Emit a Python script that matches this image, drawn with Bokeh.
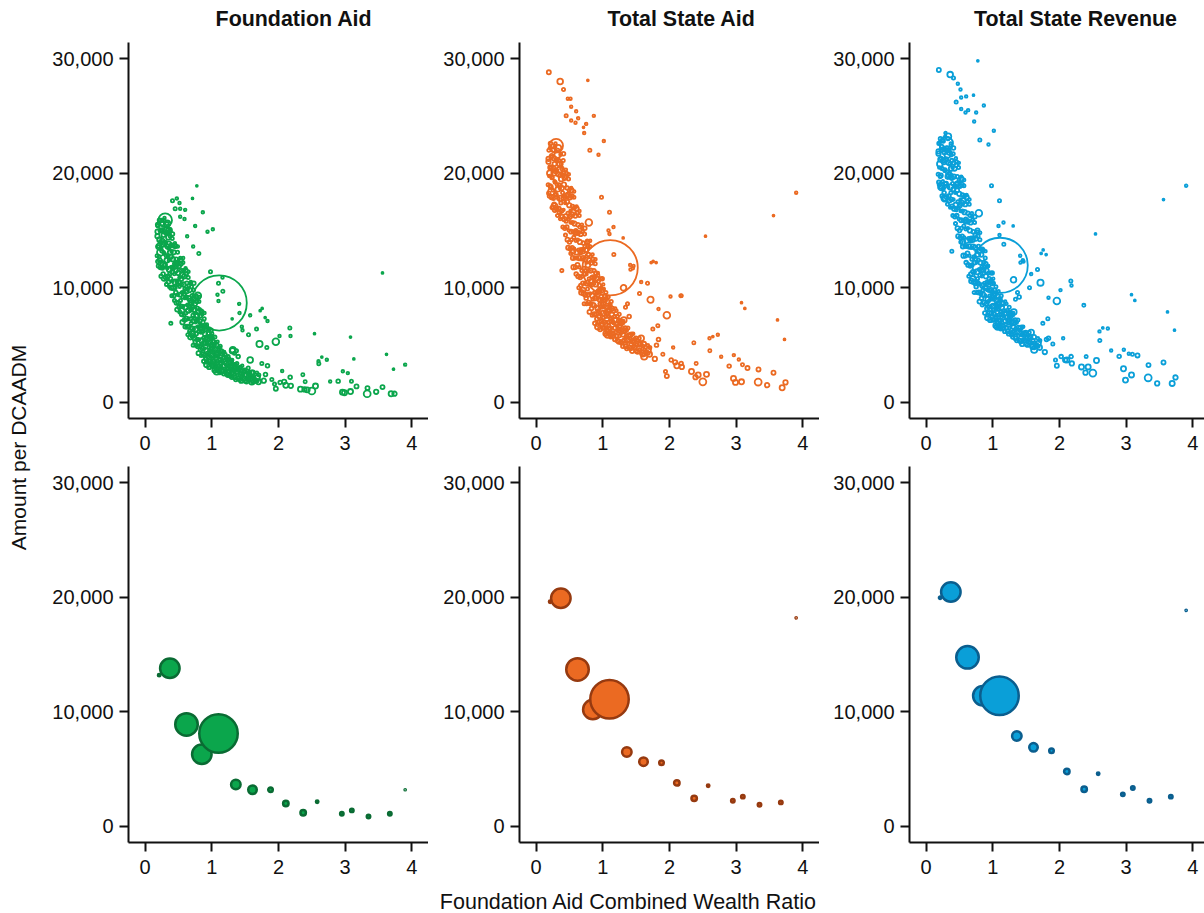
import math
from bokeh.plotting import figure
from bokeh.models import Range1d, FixedTicker, NumeralTickFormatter, Label, ColumnDataSource
from bokeh.layouts import row, column
from bokeh.embed import file_html
from bokeh.resources import INLINE

FONT = "Liberation Sans"
panel_titles = ["Foundation Aid", "Total State Aid", "Total State Revenue"]
x_ticks = [0, 1, 2, 3, 4]
y_ticks = [0, 10000, 20000, 30000]
y_label = "Amount per DCAADM"
x_label = "Foundation Aid Combined Wealth Ratio"

# ---- district level (top row): CWR, enrollment (thousands), $ thousands per DCAADM
out_cwr = [3.90, 3.56, 3.62, 3.725, 3.08, 3.13, 2.54, 0.775, 3.69, 3.74,
           3.465, 3.56, 3.33, 3.335, 3.17, 3.095, 3.04, 2.965, 2.895, 2.96,
           2.99, 3.08, 2.775, 2.725, 2.65, 2.605, 2.60, 2.555, 2.50, 2.43, 2.365]
out_enroll = [2, 1, 1, 1, 1, 1, 1, 1, 8, 6,
              6, 5, 15, 5, 5, 3, 2, 2, 4, 8,
              8, 8, 2, 2, 1, 3, 2, 8, 15, 8, 3]
out_fa = [3.3, 11.3, 4.2, 2.9, 5.7, 3.8, 6.0, 18.9, 0.76, 0.76,
          0.93, 1.34, 0.76, 1.25, 1.4, 1.86, 2.56, 2.73, 1.86, 0.9,
          0.84, 0.95, 1.83, 3.72, 3.96, 3.38, 3.6, 1.43, 1.0, 1.1, 2.42]
out_tsa = [18.3, 16.3, 7.2, 5.5, 8.7, 8.2, 14.5, 28.1, 1.28, 1.75,
           1.51, 2.59, 1.78, 2.88, 3.0, 3.29, 3.75, 4.13, 3.17, 2.1,
           1.75, 1.8, 3.99, 5.9, 5.75, 4.51, 5.6, 2.45, 1.8, 2.4, 5.21]
out_tsr = [18.9, 17.7, 7.9, 6.3, 9.4, 8.9, 14.7, 29.8, 1.66, 2.18,
           1.66, 3.49, 2.15, 3.26, 4.1, 4.2, 4.25, 4.6, 4.02, 2.94,
           1.95, 2.4, 4.54, 6.45, 6.5, 5.41, 6.2, 3.66, 2.56, 3.1, 8.47]

sp_cwr = [0.475, 0.41, 0.515, 0.525, 0.60, 0.45, 0.525, 0.59, 0.71, 0.865,
          0.75, 0.935, 1.015, 0.19, 0.36, 0.805, 0.63, 0.72, 0.98, 1.10,
          1.16, 1.165, 1.085, 1.10, 1.41, 1.415, 1.755, 1.725, 1.80, 1.575,
          1.835, 1.305, 0.385, 1.45, 1.46, 1.55, 1.67, 2.17, 2.18, 2.015,
          1.96, 1.715, 1.825, 1.75, 1.835, 1.31, 1.395, 1.37, 1.34, 2.055,
          1.805, 1.60, 1.62, 1.78, 2.175, 1.94, 1.96, 2.025, 2.085, 2.11,
          2.185, 2.33, 2.39, 1.90, 2.40,
          0.23, 0.275, 0.79, 1.135, 1.315, 1.575,
          0.32, 0.35, 0.925, 1.075, 1.24, 0.70, 0.55]
sp_enroll = [2, 3, 2, 2, 2, 3, 2, 2, 1, 2,
             2, 2, 2, 5, 10, 3, 2, 2, 3, 3,
             2, 3, 2, 2, 2, 2, 1, 1, 1, 2,
             2, 1, 3, 2, 2, 3, 3, 3, 2, 2,
             14, 12, 3, 3, 4, 10, 4, 3, 3, 2,
             4, 6, 12, 6, 4, 3, 5, 4, 6, 8,
             6, 8, 6, 3, 3,
             15, 12, 14, 12, 10, 10,
             12, 10, 10, 12, 8, 8, 8]
sp_fa = [17.8, 17.6, 17.4, 16.9, 16.8, 16.9, 16.2, 16.0, 17.8, 16.6,
         15.4, 14.9, 15.1, 15.5, 15.0, 13.0, 14.5, 13.6, 11.4, 10.4,
         10.9, 9.7, 9.4, 8.85, 8.6, 7.8, 8.2, 8.0, 7.4, 7.6,
         7.1, 7.3, 6.9, 6.6, 6.3, 5.9, 6.4, 6.5, 5.8, 5.8,
         5.3, 5.1, 4.8, 3.4, 3.2, 4.5, 4.0, 4.5, 4.3, 2.74,
         2.44, 2.6, 2.0, 1.9, 2.2, 1.6, 1.2, 1.75, 1.8, 1.5,
         1.45, 1.16, 1.13, 2.0, 1.8,
         13.1, 12.0, 9.3, 2.8, 4.6, 3.7,
         15.0, 13.8, 3.3, 2.7, 2.6, 6.0, 8.0]
sp_tsa = [26.5, 27.3, 26.5, 25.8, 25.4, 25.0, 24.6, 24.4, 24.0, 25.0,
          24.3, 21.6, 22.8, 28.8, 28.0, 22.0, 24.8, 23.5, 17.9, 16.6,
          15.3, 12.9, 15.0, 14.7, 12.0, 11.6, 12.3, 12.2, 12.2, 10.5,
          8.15, 14.35, 11.5, 11.7, 11.9, 9.5, 10.4, 9.3, 9.3, 9.25,
          7.6, 8.96, 6.7, 6.4, 5.5, 10.0, 7.5, 8.6, 8.3, 4.8,
          5.0, 4.2, 4.0, 3.8, 3.4, 2.7, 2.3, 3.7, 3.5, 3.2,
          3.1, 2.7, 2.2, 4.2, 3.4,
          18.4, 17.1, 15.7, 5.9, 7.2, 5.6,
          21.6, 20.3, 6.6, 5.9, 6.6, 9.8, 13.2]
sp_tsr = [27.8, 28.3, 27.3, 26.6, 26.7, 26.2, 25.6, 25.3, 26.8, 25.9,
          25.3, 22.5, 23.7, 29.0, 28.6, 22.9, 25.5, 24.5, 18.9, 17.6,
          15.7, 13.8, 15.4, 14.6, 12.8, 12.2, 13.3, 13.0, 12.9, 11.2,
          9.14, 15.4, 13.2, 12.4, 12.3, 10.0, 11.6, 10.6, 10.2, 9.8,
          8.85, 10.45, 7.3, 6.9, 5.6, 10.7, 9.2, 9.6, 9.0, 5.6,
          5.5, 4.9, 4.6, 4.4, 4.0, 3.7, 3.2, 4.0, 3.7, 3.7,
          3.4, 3.1, 2.6, 5.1, 4.0,
          18.8, 17.8, 16.5, 6.6, 7.9, 6.1,
          21.6, 19.8, 7.4, 6.6, 7.2, 10.8, 14.0]

band_cwr = [0.18, 0.185, 0.20, 0.205, 0.19, 0.22, 0.225, 0.215, 0.24, 0.245, 0.235,
            0.26, 0.265, 0.255, 0.28, 0.285, 0.275, 0.29, 0.30, 0.305,
            0.32, 0.325, 0.315, 0.33, 0.34, 0.345, 0.335, 0.36, 0.365, 0.355, 0.37,
            0.38, 0.385, 0.375, 0.40, 0.405, 0.395, 0.41, 0.42, 0.425, 0.415,
            0.44, 0.445, 0.435, 0.45, 0.46, 0.465, 0.455, 0.48, 0.485, 0.475, 0.49,
            0.50, 0.505, 0.495, 0.52, 0.525, 0.515, 0.53, 0.54, 0.545, 0.535,
            0.56, 0.565, 0.555, 0.57, 0.58, 0.585, 0.575, 0.60, 0.605, 0.595, 0.61,
            0.62, 0.625, 0.615, 0.64, 0.645, 0.635, 0.65, 0.66, 0.665, 0.655,
            0.68, 0.685, 0.675, 0.69, 0.70, 0.705, 0.695, 0.72, 0.725, 0.715, 0.73,
            0.74, 0.745, 0.735, 0.76, 0.765, 0.755, 0.77, 0.78, 0.785, 0.775,
            0.80, 0.805, 0.795, 0.81, 0.82, 0.825, 0.815, 0.84, 0.845, 0.835, 0.85,
            0.86, 0.865, 0.855, 0.88, 0.885, 0.875, 0.89, 0.90, 0.905, 0.895,
            0.92, 0.925, 0.915, 0.93, 0.94, 0.945, 0.935, 0.96, 0.965, 0.955,
            0.98, 0.985, 0.975, 0.99, 1.00, 1.005, 0.995, 1.02, 1.025, 1.015,
            1.04, 1.045, 1.035, 1.06, 1.065, 1.055, 1.08, 1.085, 1.075, 1.10, 1.105,
            1.12, 1.125, 1.115, 1.15, 1.155, 1.145, 1.18, 1.185, 1.175,
            1.21, 1.215, 1.205, 1.24, 1.245, 1.235, 1.27, 1.275, 1.265,
            1.30, 1.305, 1.295, 1.33, 1.335, 1.36, 1.365, 1.355, 1.40, 1.405,
            1.44, 1.445, 1.435, 1.48, 1.485, 1.52, 1.525, 1.56, 1.565,
            1.60, 1.605, 1.65, 1.70, 1.705]
band_enroll = [3, 6, 4, 10, 3, 5, 3, 4, 4, 2, 5,
               3, 8, 4, 6, 3, 5, 2, 4, 2,
               3, 7, 3, 12, 5, 3, 4, 2, 9, 3, 2,
               4, 6, 3, 3, 5, 2, 4, 6, 3, 5,
               3, 8, 2, 4, 4, 5, 3, 5, 3, 7, 2,
               4, 6, 3, 3, 5, 2, 6, 4, 3, 5,
               6, 3, 8, 2, 3, 5, 3, 4, 7, 3, 5,
               5, 2, 4, 3, 6, 3, 2, 4, 5, 3,
               7, 3, 5, 2, 4, 6, 3, 3, 5, 2, 4,
               6, 3, 4, 3, 8, 2, 5, 4, 3, 4,
               5, 3, 6, 2, 4, 5, 3, 3, 7, 3, 4,
               5, 3, 2, 4, 6, 3, 2, 5, 3, 4,
               3, 8, 3, 2, 4, 5, 3, 6, 3, 4,
               5, 3, 2, 4, 4, 7, 3, 5, 3, 2,
               6, 3, 4, 3, 5, 2, 5, 3, 6, 4, 3,
               3, 5, 2, 6, 3, 4, 4, 5, 3,
               3, 6, 2, 5, 3, 4, 3, 6, 2,
               4, 5, 3, 6, 3, 4, 8, 3, 5, 3,
               6, 4, 2, 5, 3, 4, 8, 3, 5,
               10, 3, 6, 8, 3]
band_fa = [12.8, 14.5, 11.9, 13.6, 15.4, 12.4, 14.0, 15.9, 11.0, 13.2, 15.0,
           11.7, 13.8, 15.6, 10.8, 13.0, 14.6, 16.1, 12.0, 13.9,
           10.3, 12.4, 14.8, 15.6, 11.0, 12.8, 14.8, 10.1, 11.6, 13.5, 15.1,
           10.8, 12.7, 14.5, 9.3, 11.4, 13.2, 14.7, 10.0, 11.8, 13.7,
           8.9, 10.5, 12.1, 13.6, 9.6, 11.5, 13.7, 8.1, 10.3, 12.1, 13.6,
           8.7, 10.5, 12.3, 7.9, 9.4, 10.9, 12.4, 8.4, 10.3, 12.1,
           7.0, 9.2, 11.1, 12.6, 7.6, 9.5, 11.5, 6.6, 8.3, 9.9, 11.5,
           7.3, 9.2, 11.2, 5.9, 8.0, 9.9, 11.4, 6.6, 8.4, 10.2,
           5.7, 7.3, 8.9, 10.4, 6.5, 8.3, 10.1, 5.0, 7.1, 8.9, 10.4,
           5.6, 7.3, 9.0, 5.0, 6.4, 7.8, 9.2, 5.5, 7.2, 8.8,
           4.3, 6.2, 7.9, 9.2, 4.9, 6.5, 8.1, 4.1, 5.4, 6.7, 7.9,
           4.7, 6.2, 7.7, 3.6, 5.2, 6.6, 7.8, 4.1, 5.4, 6.7,
           3.5, 4.5, 5.6, 6.6, 4.0, 5.2, 6.4, 3.1, 4.5, 5.7,
           3.6, 4.7, 5.8, 6.3, 3.2, 4.1, 5.0, 3.6, 4.6, 5.6,
           2.8, 4.0, 5.0, 3.2, 4.2, 5.2, 2.8, 3.6, 4.3, 3.2, 4.6,
           2.6, 3.7, 4.8, 2.8, 3.6, 4.5, 2.5, 3.2, 3.9,
           2.7, 3.4, 4.2, 2.4, 3.0, 3.7, 2.4, 3.1, 3.8,
           2.2, 2.9, 3.6, 2.5, 3.1, 2.0, 2.7, 3.3, 2.1, 2.8,
           1.9, 2.5, 3.1, 2.1, 2.7, 1.8, 2.4, 2.0, 2.6,
           1.8, 2.3, 1.9, 1.8, 2.4]
band_tsa = [19.0, 21.0, 18.0, 20.0, 22.0, 18.8, 20.5, 22.6, 17.0, 19.6, 21.5,
            17.8, 20.0, 22.0, 16.8, 19.2, 20.8, 22.6, 18.1, 20.2,
            16.3, 18.6, 21.2, 22.2, 16.9, 19.0, 21.1, 16.0, 17.8, 19.8, 21.7,
            16.7, 18.7, 20.8, 15.3, 17.8, 19.9, 21.7, 16.0, 18.0, 20.0,
            14.6, 16.2, 18.0, 19.7, 15.3, 17.5, 20.0, 13.5, 16.0, 18.1, 19.9,
            14.0, 16.2, 18.5, 13.0, 14.9, 16.7, 18.5, 13.5, 15.7, 18.0,
            11.8, 14.4, 16.6, 18.4, 12.6, 14.8, 17.0, 11.2, 13.1, 15.0, 16.9,
            12.0, 14.2, 16.5, 10.0, 12.6, 14.8, 16.7, 10.9, 13.1, 15.3,
            9.6, 11.5, 13.3, 15.2, 10.4, 12.6, 14.9, 8.6, 11.2, 13.4, 15.2,
            9.4, 11.5, 13.6, 8.6, 10.4, 12.2, 14.0, 9.4, 11.5, 13.6,
            7.9, 10.3, 12.4, 14.1, 8.6, 10.6, 12.7, 7.6, 9.3, 10.9, 12.5,
            8.5, 10.4, 12.3, 6.9, 9.1, 10.9, 12.5, 7.7, 9.5, 11.3,
            6.8, 8.2, 9.6, 11.1, 7.5, 9.0, 10.6, 6.4, 8.3, 9.8,
            7.1, 8.6, 10.0, 10.8, 6.5, 7.8, 9.0, 7.0, 8.4, 9.9,
            6.0, 7.5, 8.9, 6.5, 7.8, 9.1, 6.0, 7.0, 8.0, 6.5, 8.3,
            5.7, 7.1, 8.5, 6.0, 7.0, 8.2, 5.5, 6.5, 7.5,
            5.8, 6.8, 8.0, 5.3, 6.2, 7.1, 5.3, 6.2, 7.2,
            4.9, 5.9, 6.9, 5.4, 6.2, 4.7, 5.5, 6.3, 4.8, 5.6,
            4.5, 5.3, 6.0, 4.8, 5.5, 4.4, 5.1, 4.6, 5.1,
            4.3, 4.9, 4.4, 4.2, 4.8]
band_tsr = [19.9, 21.7, 19.0, 20.8, 22.6, 19.8, 21.3, 23.0, 18.0, 20.4, 22.3,
            18.7, 21.0, 22.8, 17.8, 20.3, 21.8, 23.5, 19.1, 21.2,
            17.3, 19.7, 22.2, 23.2, 18.0, 20.0, 22.0, 17.0, 18.8, 20.8, 22.6,
            17.7, 19.6, 21.6, 16.3, 18.6, 20.5, 22.2, 16.9, 18.9, 20.9,
            15.6, 17.2, 18.9, 20.7, 16.3, 18.5, 21.0, 14.5, 17.0, 19.1, 20.9,
            15.0, 17.2, 19.4, 14.0, 15.9, 17.7, 19.5, 14.5, 16.7, 19.0,
            12.8, 15.4, 17.6, 19.4, 13.6, 15.8, 18.0, 12.2, 14.1, 16.0, 17.9,
            13.0, 15.2, 17.5, 11.0, 13.6, 15.8, 17.7, 11.9, 14.1, 16.3,
            10.6, 12.5, 14.3, 16.2, 11.4, 13.6, 15.9, 9.6, 12.2, 14.4, 16.2,
            10.4, 12.5, 14.6, 9.6, 11.4, 13.2, 15.0, 10.4, 12.4, 14.5,
            8.8, 11.1, 13.2, 14.8, 9.5, 11.5, 13.4, 8.5, 10.2, 11.8, 13.3,
            9.4, 11.3, 13.2, 7.8, 10.0, 11.8, 13.2, 8.6, 10.3, 12.1,
            7.6, 9.0, 10.5, 11.9, 8.3, 9.8, 11.3, 7.2, 9.0, 10.5,
            7.8, 9.3, 10.7, 11.3, 7.2, 8.4, 9.6, 7.7, 9.0, 10.4,
            6.7, 8.1, 9.4, 7.2, 8.4, 9.6, 6.6, 7.6, 8.6, 7.2, 8.9,
            6.4, 7.7, 9.0, 6.7, 7.6, 8.7, 6.2, 7.1, 8.0,
            6.5, 7.4, 8.6, 6.0, 6.9, 7.8, 6.1, 7.0, 7.9,
            5.7, 6.6, 7.6, 6.1, 6.9, 5.4, 6.2, 7.0, 5.4, 6.3,
            5.1, 5.9, 6.6, 5.4, 6.0, 5.0, 5.6, 5.2, 5.7,
            4.9, 5.4, 5.0, 4.8, 5.4]

band2_cwr = [0.19, 0.196, 0.186, 0.21, 0.216, 0.206, 0.23, 0.236, 0.226, 0.25, 0.256, 0.246,
             0.27, 0.276, 0.266, 0.29, 0.296, 0.286, 0.31, 0.316, 0.306, 0.33, 0.336, 0.326,
             0.35, 0.356, 0.346, 0.37, 0.376, 0.366, 0.39, 0.396, 0.386, 0.41, 0.416, 0.406,
             0.43, 0.436, 0.426, 0.45, 0.456, 0.446, 0.47, 0.476, 0.466, 0.49, 0.496, 0.486,
             0.51, 0.516, 0.506, 0.53, 0.536, 0.526, 0.55, 0.556, 0.546, 0.57, 0.576, 0.566,
             0.59, 0.596, 0.586, 0.61, 0.616, 0.606, 0.63, 0.636, 0.626, 0.65, 0.656, 0.646,
             0.67, 0.676, 0.666, 0.69, 0.696, 0.686, 0.71, 0.716, 0.706, 0.73, 0.736, 0.726,
             0.75, 0.756, 0.746, 0.77, 0.776, 0.766, 0.79, 0.796, 0.786, 0.81, 0.816, 0.806,
             0.83, 0.836, 0.826, 0.85, 0.856, 0.846, 0.87, 0.876, 0.866, 0.89, 0.896, 0.886,
             0.91, 0.916, 0.906, 0.93, 0.936, 0.926, 0.95, 0.956, 0.946, 0.97, 0.976, 0.966,
             0.99, 0.996, 0.986, 1.01, 1.016, 1.006, 1.03, 1.036, 1.026, 1.05, 1.056, 1.046,
             1.07, 1.076, 1.066, 1.09, 1.096, 1.086, 1.11, 1.116, 1.106, 1.13, 1.136, 1.126,
             1.16, 1.166, 1.156, 1.19, 1.196, 1.186, 1.22, 1.226, 1.216, 1.25, 1.256, 1.246,
             1.28, 1.286, 1.276, 1.31, 1.316, 1.306, 1.34, 1.346, 1.336, 1.38, 1.386, 1.376,
             1.42, 1.426, 1.416, 1.46, 1.466, 1.456, 1.50, 1.506, 1.496, 1.55, 1.556, 1.546,
             1.62, 1.626, 1.616, 1.68, 1.686, 1.676]
band2_enroll = [4, 2, 6, 3, 7, 2, 5, 3, 4, 2, 6, 3,
                4, 2, 6, 3, 7, 2, 5, 3, 4, 2, 6, 3,
                4, 2, 6, 3, 7, 2, 5, 3, 4, 2, 6, 3,
                4, 2, 6, 3, 7, 2, 5, 3, 4, 2, 6, 3,
                4, 2, 6, 3, 7, 2, 5, 3, 4, 2, 6, 3,
                4, 2, 6, 3, 7, 2, 5, 3, 4, 2, 6, 3,
                4, 2, 6, 3, 7, 2, 5, 3, 4, 2, 6, 3,
                4, 2, 6, 3, 7, 2, 5, 3, 4, 2, 6, 3,
                4, 2, 6, 3, 7, 2, 5, 3, 4, 2, 6, 3,
                4, 2, 6, 3, 7, 2, 5, 3, 4, 2, 6, 3,
                4, 2, 6, 3, 7, 2, 5, 3, 4, 2, 6, 3,
                4, 2, 6, 3, 7, 2, 5, 3, 4, 2, 6, 3,
                4, 2, 6, 3, 7, 2, 5, 3, 4, 2, 6, 3,
                4, 2, 6, 3, 7, 2, 5, 3, 4, 2, 6, 3,
                4, 2, 6, 3, 7, 2, 5, 3, 4, 2, 6, 3,
                4, 2, 6, 3, 7, 2]
band2_fa = [12.3, 13.6, 14.9, 12.7, 14.2, 15.6, 11.8, 13.4, 15.0, 12.3, 14.1, 15.9,
            11.2, 13.1, 15.0, 12.0, 13.9, 15.9, 10.9, 12.8, 14.8, 11.7, 13.6, 15.6,
            10.5, 12.4, 14.4, 11.2, 13.1, 15.0, 10.0, 11.8, 13.7, 10.6, 12.5, 14.3,
            9.3, 11.2, 13.1, 10.0, 11.9, 13.9, 8.7, 10.6, 12.5, 9.4, 11.3, 13.1,
            8.3, 10.1, 11.9, 8.9, 10.8, 12.6, 7.7, 9.6, 11.5, 8.4, 10.3, 12.2,
            7.2, 9.1, 11.0, 7.8, 9.7, 11.7, 6.6, 8.5, 10.4, 7.3, 9.1, 10.9,
            6.2, 8.0, 9.8, 6.9, 8.7, 10.5, 5.8, 7.6, 9.3, 6.4, 8.1, 9.8,
            5.3, 7.0, 8.6, 6.0, 7.6, 9.3, 4.9, 6.6, 8.2, 5.5, 7.1, 8.8,
            4.6, 6.1, 7.6, 5.1, 6.5, 8.0, 4.2, 5.6, 7.0, 4.7, 6.0, 7.3,
            3.8, 5.1, 6.4, 4.3, 5.6, 6.8, 3.6, 4.8, 6.0, 4.1, 5.2, 6.4,
            3.4, 4.5, 5.7, 3.9, 5.0, 6.0, 3.2, 4.3, 5.3, 3.6, 4.6, 5.7,
            3.0, 4.0, 5.0, 3.4, 4.3, 5.3, 2.9, 3.8, 4.7, 3.2, 4.1, 4.9,
            2.7, 3.5, 4.3, 2.9, 3.6, 4.4, 2.5, 3.2, 3.9, 2.7, 3.4, 4.0,
            2.3, 2.9, 3.6, 2.6, 3.1, 3.7, 2.2, 2.8, 3.3, 2.4, 2.9, 3.4,
            2.0, 2.5, 3.0, 2.3, 2.7, 3.2, 1.9, 2.4, 2.8, 2.1, 2.5, 3.0,
            1.8, 2.2, 2.6, 1.9, 2.2, 2.6]
band2_tsa = [18.25, 19.75, 21.25, 18.9, 20.5, 22.2, 17.9, 19.6, 21.4, 18.5, 20.4, 22.4,
             17.3, 19.3, 21.3, 18.2, 20.2, 22.3, 16.9, 19.0, 21.2, 17.8, 19.9, 22.0,
             16.6, 18.7, 20.8, 17.4, 19.5, 21.6, 16.2, 18.3, 20.4, 16.8, 19.0, 21.1,
             15.2, 17.4, 19.6, 15.8, 18.0, 20.3, 14.2, 16.5, 18.7, 15.0, 17.2, 19.5,
             13.4, 15.7, 17.9, 14.2, 16.4, 18.7, 12.6, 14.9, 17.1, 13.4, 15.6, 17.9,
             11.8, 14.1, 16.3, 12.6, 14.8, 17.1, 11.0, 13.3, 15.5, 11.8, 14.0, 16.3,
             10.2, 12.5, 14.7, 11.0, 13.2, 15.5, 9.5, 11.7, 13.9, 10.4, 12.5, 14.7,
             9.1, 11.2, 13.3, 9.9, 12.0, 14.1, 8.7, 10.8, 12.9, 9.5, 11.5, 13.6,
             8.2, 10.2, 12.2, 9.0, 10.9, 12.9, 7.7, 9.6, 11.5, 8.4, 10.3, 12.1,
             7.3, 9.1, 10.8, 8.0, 9.7, 11.3, 7.0, 8.6, 10.2, 7.7, 9.2, 10.8,
             6.8, 8.3, 9.8, 7.4, 8.9, 10.3, 6.5, 7.9, 9.3, 7.0, 8.3, 9.6,
             6.2, 7.5, 8.8, 6.7, 8.0, 9.2, 6.1, 7.3, 8.4, 6.5, 7.7, 8.8,
             5.8, 6.9, 8.0, 6.1, 7.2, 8.2, 5.4, 6.4, 7.5, 5.8, 6.7, 7.7,
             5.2, 6.1, 7.0, 5.4, 6.3, 7.1, 4.9, 5.7, 6.5, 5.1, 5.8, 6.5,
             4.7, 5.3, 5.9, 4.9, 5.4, 6.0, 4.5, 5.0, 5.6, 4.6, 5.1, 5.6,
             4.2, 4.6, 5.1, 4.3, 4.6, 5.0]
band2_tsr = [19.2, 20.5, 21.9, 19.7, 21.2, 22.7, 18.8, 20.4, 22.0, 19.3, 21.1, 22.9,
             18.3, 20.2, 22.1, 19.1, 21.2, 23.2, 17.9, 20.1, 22.2, 18.8, 20.9, 23.0,
             17.6, 19.7, 21.8, 18.3, 20.4, 22.4, 17.1, 19.1, 21.1, 17.7, 19.7, 21.7,
             16.2, 18.3, 20.4, 16.8, 19.0, 21.3, 15.2, 17.5, 19.7, 16.0, 18.2, 20.5,
             14.4, 16.7, 18.9, 15.2, 17.4, 19.7, 13.6, 15.9, 18.1, 14.4, 16.6, 18.9,
             12.8, 15.1, 17.3, 13.6, 15.8, 18.1, 12.0, 14.3, 16.5, 12.8, 15.0, 17.3,
             11.2, 13.5, 15.7, 12.0, 14.2, 16.5, 10.5, 12.7, 14.9, 11.4, 13.5, 15.7,
             10.1, 12.2, 14.3, 10.8, 12.9, 14.9, 9.6, 11.6, 13.6, 10.3, 12.2, 14.2,
             9.1, 11.0, 12.9, 9.8, 11.6, 13.4, 8.7, 10.4, 12.2, 9.3, 11.0, 12.6,
             8.2, 9.8, 11.5, 8.8, 10.3, 11.9, 7.8, 9.3, 10.8, 8.4, 9.8, 11.3,
             7.5, 9.0, 10.4, 8.1, 9.5, 10.8, 7.2, 8.5, 9.8, 7.6, 8.9, 10.1,
             6.9, 8.1, 9.3, 7.4, 8.5, 9.7, 6.8, 7.9, 9.0, 7.2, 8.3, 9.3,
             6.5, 7.5, 8.6, 6.8, 7.8, 8.8, 6.2, 7.1, 8.0, 6.5, 7.4, 8.3,
             5.9, 6.8, 7.7, 6.2, 7.0, 7.8, 5.6, 6.4, 7.2, 5.8, 6.5, 7.2,
             5.3, 5.9, 6.5, 5.5, 6.0, 6.6, 5.1, 5.6, 6.1, 5.2, 5.7, 6.1,
             4.8, 5.2, 5.7, 4.9, 5.2, 5.6]

# the two largest districts, drawn last
big_cwr = [0.30, 1.11]
big_enroll = [60, 1000]
big_fa = [15.9, 8.68]
big_tsa = [22.4, 11.75]
big_tsr = [22.6, 11.96]

# ---- binned means (bottom row)
bin_cwr = [0.21, 0.37, 0.62, 0.85, 1.10, 1.36, 1.61, 1.88, 2.11, 2.37, 2.58, 2.95, 3.10, 3.35, 3.67, 3.90]
bin_enroll = [4, 257, 342, 257, 1000, 61, 49, 14, 20, 20, 4, 8, 8, 8, 8, 1]
bin_fa = [13.2, 13.8, 8.9, 6.3, 8.1, 3.65, 3.2, 3.2, 2.0, 1.2, 2.15, 1.1, 1.4, 0.87, 1.1, 3.2]
bin_tsa = [19.6, 19.9, 13.7, 10.2, 11.1, 6.5, 5.65, 5.55, 3.8, 2.45, 3.55, 2.25, 2.6, 1.9, 2.1, 18.2]
bin_tsr = [19.95, 20.45, 14.75, 11.4, 11.4, 7.9, 6.9, 6.6, 4.8, 3.25, 4.6, 2.8, 3.35, 2.25, 2.6, 18.85]

colors = ["#0BA64C", "#EB6A22", "#0A9FD8"]
dark_colors = ["#0A6B33", "#963A10", "#0B5E8E"]

cwr = out_cwr + sp_cwr + band_cwr + band2_cwr + big_cwr
enroll = out_enroll + sp_enroll + band_enroll + band2_enroll + big_enroll
series_top = [out_fa + sp_fa + band_fa + band2_fa + big_fa,
              out_tsa + sp_tsa + band_tsa + band2_tsa + big_tsa,
              out_tsr + sp_tsr + band_tsr + band2_tsr + big_tsr]
series_bot = [bin_fa, bin_tsa, bin_tsr]
for s in series_top:
    assert len(s) == len(cwr) == len(enroll), (len(s), len(cwr), len(enroll))

top_sizes = [0.2 + 1.74 * math.sqrt(w) for w in enroll]
bot_sizes = [max(1.0, 1.217 * math.sqrt(w)) for w in bin_enroll]

STRIP_W = 36
col_border = [92, 91, 90]
col_frame = [300, 300, 295]
x_start = -0.25
x_per_px = 4.5 / 300.0
y_rng = (-1400, 31400)
# title centres, in pixels from the left edge of the title strip
title_centres = [257.5, 645, 1039]


def style(p):
    p.grid.visible = False
    p.outline_line_color = None
    for ax in (p.xaxis[0], p.yaxis[0]):
        ax.axis_line_width = 2
        ax.axis_line_color = "#111111"
        ax.major_tick_line_width = 2
        ax.major_tick_line_color = "#111111"
        ax.major_tick_out = 9
        ax.major_tick_in = 0
        ax.minor_tick_line_color = None
        ax.major_label_text_font = FONT
        ax.major_label_text_font_size = "20px"
        ax.major_label_text_color = "#111111"
    p.xaxis.ticker = FixedTicker(ticks=x_ticks)
    p.yaxis.ticker = FixedTicker(ticks=y_ticks)
    p.yaxis.formatter = NumeralTickFormatter(format="0,0")
    p.xaxis.major_label_standoff = 8
    p.yaxis.major_label_standoff = 6


def make_panel(ci, top):
    w = col_border[ci] + col_frame[ci]
    xr = Range1d(x_start, x_start + col_frame[ci] * x_per_px)
    if top:
        p = figure(width=w, height=424, x_range=xr, y_range=Range1d(*y_rng),
                   toolbar_location=None, output_backend="svg",
                   min_border_left=col_border[ci], min_border_right=0,
                   min_border_top=0, min_border_bottom=48)
        src = ColumnDataSource(dict(x=cwr, y=[v * 1000 for v in series_top[ci]], s=top_sizes))
        p.scatter(x="x", y="y", size="s", source=src, marker="circle",
                  fill_color=None, line_color=colors[ci], line_width=1.8)
    else:
        p = figure(width=w, height=422, x_range=xr, y_range=Range1d(*y_rng),
                   toolbar_location=None, output_backend="svg",
                   min_border_left=col_border[ci], min_border_right=0,
                   min_border_top=0, min_border_bottom=46)
        src = ColumnDataSource(dict(x=bin_cwr, y=[v * 1000 for v in series_bot[ci]], s=bot_sizes))
        p.scatter(x="x", y="y", size="s", source=src, marker="circle",
                  fill_color=colors[ci], line_color=dark_colors[ci], line_width=2.5)
    style(p)
    return p


def text_strip(w, h):
    f = figure(width=w, height=h, x_range=Range1d(0, w), y_range=Range1d(0, h),
               toolbar_location=None, output_backend="svg", min_border=0,
               x_axis_type=None, y_axis_type=None, outline_line_color=None)
    f.grid.visible = False
    return f


title_strip = text_strip(1168, 42)
for t, cx in zip(panel_titles, title_centres):
    title_strip.add_layout(Label(x=cx, y=24, text=t, text_align="center", text_baseline="middle",
                                 text_font=FONT, text_font_size="21.4px", text_font_style="bold",
                                 text_color="#111111"))

top_row = row(*[make_panel(i, True) for i in range(3)], spacing=0)
bot_row = row(*[make_panel(i, False) for i in range(3)], spacing=0)

ystrip = text_strip(STRIP_W, 888)
ystrip.add_layout(Label(x=18, y=441, text=y_label, angle=math.pi / 2,
                        text_align="center", text_baseline="middle",
                        text_font=FONT, text_font_size="21px", text_color="#111111"))

xstrip = text_strip(1204, 25)
xstrip.add_layout(Label(x=628, y=12, text=x_label, text_align="center", text_baseline="middle",
                        text_font=FONT, text_font_size="21.5px", text_color="#111111"))

layout = column(row(ystrip, column(title_strip, top_row, bot_row, spacing=0), spacing=0),
                xstrip, spacing=0)

open("out.html", "w").write(file_html(layout, INLINE))
